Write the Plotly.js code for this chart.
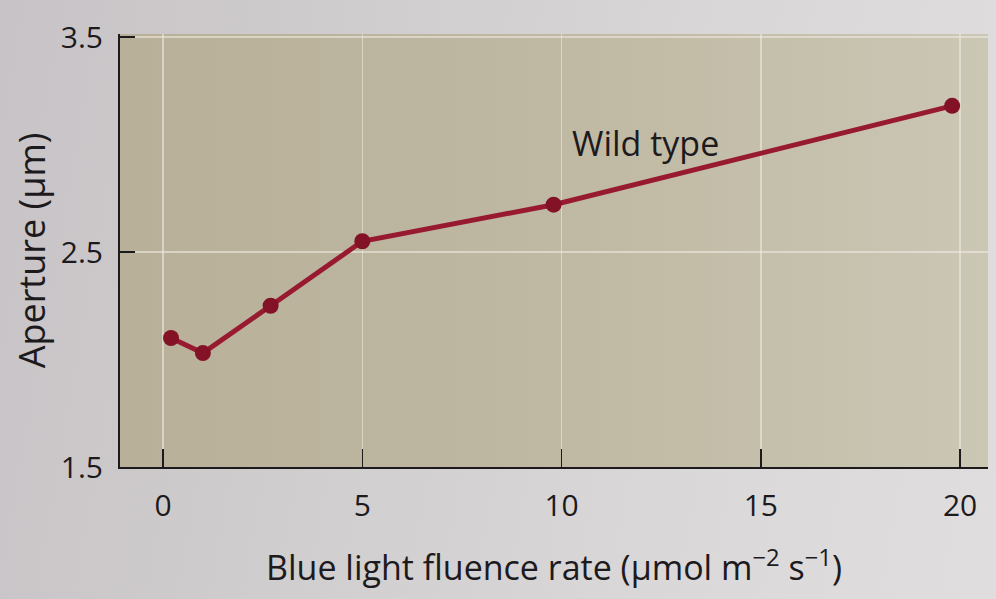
<!DOCTYPE html>
<html>
<head>
<meta charset="utf-8">
<script src="https://cdn.plot.ly/plotly-3.0.1.min.js"></script>
<style>
  html, body { margin: 0; padding: 0; }
  body {
    width: 996px; height: 599px; overflow: hidden; position: relative;
    background: linear-gradient(100deg, #c7c3c6 0%, #d2cfd0 40%, #dbd9d9 75%, #dfdddd 100%);
  }
  /* tinted panel behind the plotting area */
  #panel {
    position: absolute; left: 120px; top: 34px; width: 868px; height: 433px;
    background: linear-gradient(90deg, #b8b099 0%, #beb7a1 45%, #c6c1ad 80%, #cbc7b5 100%);
  }
  #chart { position: absolute; left: 0; top: 0; width: 996px; height: 599px; }
</style>
</head>
<body>
<div id="panel"></div>
<div id="chart"></div>
<script>
// Stomatal aperture of wild-type guard cells under increasing blue light
const fluence = [0.2, 1, 2.7, 5, 9.8, 19.8];
const aperture = [2.10, 2.03, 2.25, 2.55, 2.72, 3.18];
const xTicks = [0, 5, 10, 15, 20];
const yTicks = [1.5, 2.5, 3.5];
const yTickText = ['1.5', '2.5', '3.5'];
const seriesName = 'Wild type';

const FONT = '"Open Sans", "Noto Sans", sans-serif';
const INK = '#1c1a1c';
const GRID = 'rgba(238,234,224,0.6)';

const trace = {
  x: fluence,
  y: aperture,
  type: 'scatter',
  mode: 'lines+markers',
  name: seriesName,
  line: { color: '#981a30', width: 5 },
  marker: { color: '#831226', size: 16 },
  cliponaxis: false,
  hoverinfo: 'x+y'
};

const layout = {
  width: 996,
  height: 599,
  margin: { l: 120, r: 8, t: 34, b: 132 },
  paper_bgcolor: 'rgba(0,0,0,0)',
  plot_bgcolor: 'rgba(0,0,0,0)',
  showlegend: false,
  font: { family: FONT, color: INK },
  xaxis: {
    range: [-1.08, 20.7],
    tickvals: xTicks,
    ticktext: xTicks.map(String),
    ticks: 'inside',
    ticklen: 18,
    tickwidth: 1.5,
    tickcolor: INK,
    tickfont: { size: 30, color: INK, family: FONT },
    ticklabelstandoff: 11,
    showgrid: true,
    gridcolor: GRID,
    gridwidth: 1.5,
    zeroline: false,
    showline: true,
    linecolor: INK,
    linewidth: 2,
    title: {
      text: 'Blue light fluence rate (μmol m<sup>−2</sup> s<sup>−1</sup>)',
      font: { size: 34, color: INK, family: FONT },
      standoff: 32
    }
  },
  yaxis: {
    range: [1.5, 3.514],
    tickvals: yTicks,
    ticktext: yTickText,
    ticks: 'inside',
    ticklen: 15,
    tickwidth: 1.5,
    tickcolor: INK,
    tickfont: { size: 30, color: INK, family: FONT },
    ticklabelstandoff: 9,
    showgrid: true,
    gridcolor: GRID,
    gridwidth: 1.5,
    zeroline: false,
    showline: true,
    linecolor: INK,
    linewidth: 2,
    title: {
      text: 'Aperture (μm)',
      font: { size: 36, color: INK, family: FONT },
      standoff: 4
    }
  },
  annotations: [{
    x: 12.1, y: 3.007, xref: 'x', yref: 'y',
    text: seriesName,
    showarrow: false,
    font: { size: 34, color: INK, family: FONT }
  }]
};

Plotly.newPlot('chart', [trace], layout, { displayModeBar: false, staticPlot: true });
</script>
</body>
</html>
